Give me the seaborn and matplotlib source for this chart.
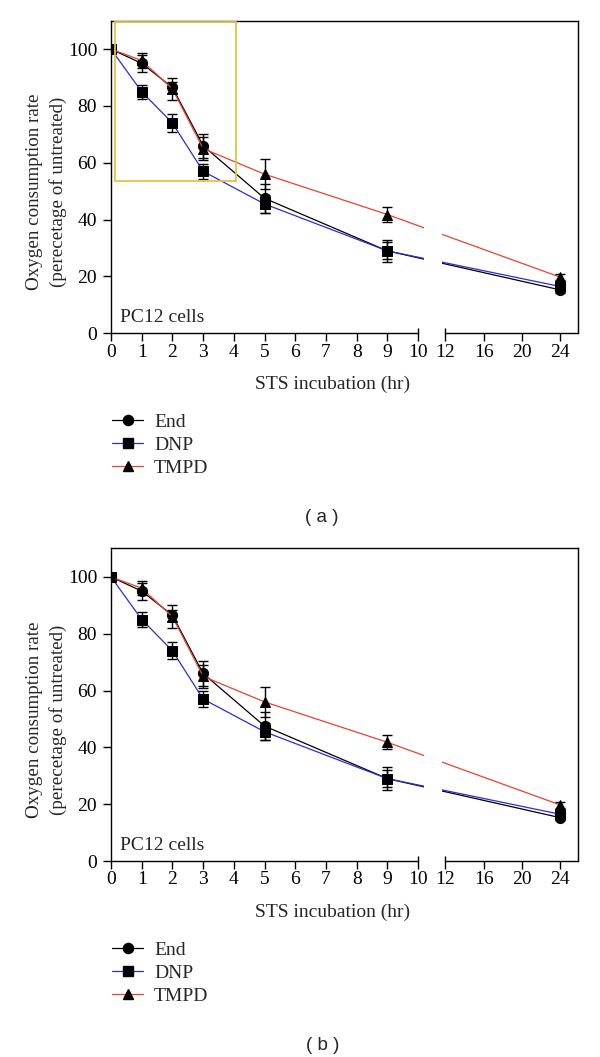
import numpy as np
import pandas as pd
import matplotlib
matplotlib.use("Agg")
import matplotlib.pyplot as plt
from matplotlib.lines import Line2D
from matplotlib.patches import Rectangle
import seaborn as sns

# values (both panels show the same data)
hours = [0, 1, 2, 3, 5, 9, 24]
end_rate = [100, 95, 86.5, 66, 47.5, 29, 15.3]
end_err = [0, 3, 2, 4.3, 5, 3, 1]
dnp_rate = [100, 85, 74, 57, 45.5, 29, 16.5]
dnp_err = [0, 2.5, 3, 2.7, 3, 4, 1]
tmpd_rate = [100, 96, 86, 65, 56, 41.8, 19.8]
tmpd_err = [0, 2.5, 4, 4, 5.3, 2.5, 1]

treatments = ["End", "DNP", "TMPD"]
colors = {"End": "black", "DNP": "#2b2be0", "TMPD": "#e8432e"}
markers = {"End": "o", "DNP": "s", "TMPD": "^"}
x_ticks = [0, 1, 2, 3, 4, 5, 6, 7, 8, 9, 10, 12, 16, 20, 24]
y_ticks = [0, 20, 40, 60, 80, 100]

df = pd.DataFrame({
    "hr": hours * 3,
    "rate": end_rate + dnp_rate + tmpd_rate,
    "err": end_err + dnp_err + tmpd_err,
    "treatment": sum([[t] * len(hours) for t in treatments], []),
})

# broken x axis: 0-10 linear, gap, then 12-24 compressed
GAP = 0.894
RIGHT = 0.31


def fwd(x):
    x = np.asarray(x, dtype=float)
    return np.where(x <= 10, x,
                    np.where(x < 12, 10 + (x - 10) * GAP / 2,
                             10 + GAP + (x - 12) * RIGHT))


def inv(t):
    t = np.asarray(t, dtype=float)
    return np.where(t <= 10, t,
                    np.where(t < 10 + GAP, 10 + (t - 10) * 2 / GAP,
                             12 + (t - 10 - GAP) / RIGHT))


sns.set_style("ticks")
plt.rcParams["font.family"] = ["Liberation Serif", "DejaVu Serif"]
plt.rcParams["font.size"] = 14

fig = plt.figure(figsize=(6, 10.57), dpi=100)


def draw_panel(ax, tag, highlight):
    sns.lineplot(data=df, x="hr", y="rate", hue="treatment", style="treatment",
                 hue_order=treatments, style_order=treatments, palette=colors,
                 markers=markers, dashes=False, errorbar=None, sort=False,
                 lw=0.9, markersize=7.3, markerfacecolor="black",
                 markeredgecolor="black", legend=False, ax=ax)
    for t in treatments:
        sub = df[df.treatment == t]
        ax.errorbar(sub.hr, sub.rate, yerr=sub.err, fmt="none", ecolor="black",
                    elinewidth=1, capsize=3.9, capthick=1, zorder=3)

    ax.set_xscale("function", functions=(fwd, inv))
    ax.set_xlim(0, 25.9)
    ax.set_ylim(0, 110)
    ax.set_xticks(x_ticks)
    ax.set_xticklabels([str(v) for v in x_ticks])
    ax.set_yticks(y_ticks)
    ax.minorticks_off()
    ax.tick_params(axis="both", direction="out", length=6, width=1,
                   color="black", labelsize=14, labelcolor="black")
    ax.tick_params(axis="x", pad=1.5)
    ax.tick_params(axis="y", pad=4)

    for s in ["left", "top", "right"]:
        ax.spines[s].set_visible(True)
        ax.spines[s].set_color("black")
        ax.spines[s].set_linewidth(1)
    ax.spines["bottom"].set_visible(False)

    # broken bottom axis with caps at the break
    xt = ax.get_xaxis_transform()
    ax.plot([0, 10], [0, 0], transform=xt, color="black", lw=1, clip_on=False, zorder=5)
    ax.plot([12, 25.9], [0, 0], transform=xt, color="black", lw=1, clip_on=False, zorder=5)
    ax.vlines([10, 12], 0, 0.016, transform=xt, color="black", lw=1, clip_on=False, zorder=5)
    # white gap in the lines at the break
    ax.axvspan(10.47, 11.73, color="white", zorder=2.2, lw=0)

    ax.text(0.3, 2.5, "PC12 cells", fontsize=14, ha="left", va="bottom")

    ax.set_xlabel("STS incubation (hr)", fontsize=14)
    ax.xaxis.set_label_coords(0.475, -0.135)
    ax.set_ylabel("Oxygen consumption rate\n(perecetage of untreated)",
                  fontsize=13.7, linespacing=1.38)
    ax.yaxis.set_label_coords(-0.095, 0.452)

    if highlight:
        ax.add_patch(Rectangle((0.13, 53.5), 3.94, 55.9, fill=False,
                               ec="#e2c443", lw=1.3, zorder=4))

    handles = [Line2D([], [], color=colors[t], marker=markers[t], mfc="black",
                      mec="black", ms=7.3 if t != "DNP" else 6.8, lw=0.9)
               for t in treatments]
    pos = ax.get_position()
    fig.legend(handles, treatments, loc="upper left",
               bbox_to_anchor=(0.187, pos.y0 - 80 / 1057), frameon=False,
               fontsize=14, handlelength=1.6, handletextpad=0.55,
               labelspacing=0.28, borderpad=0, borderaxespad=0)

    fig.text(0.537, pos.y0 - 184 / 1057, tag, ha="center", va="center",
             fontsize=13.5, family=["Liberation Sans", "DejaVu Sans"])


ax_a = fig.add_axes([0.185, 0.6847, 0.778, 0.2957])
ax_b = fig.add_axes([0.185, 0.1854, 0.778, 0.2957])
draw_panel(ax_a, "( a )", True)
draw_panel(ax_b, "( b )", False)

fig.savefig("out.png", dpi=100)
